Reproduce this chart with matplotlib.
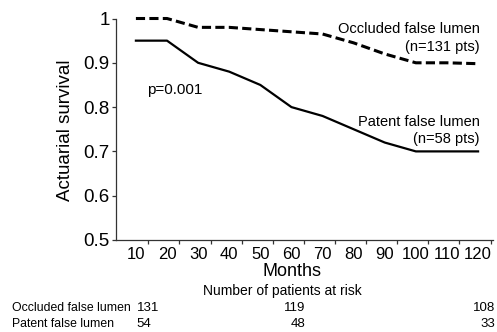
import matplotlib
matplotlib.use('Agg')
import matplotlib.pyplot as plt
import matplotlib.transforms as mtransforms
import numpy as np

# ---------------------- Data --------------------------- #

months = [10, 20, 30, 40, 50, 60, 70, 80, 90, 100, 110, 120]
occluded = [1.0, 1.0, 0.98, 0.98, 0.975, 0.97, 0.965, 0.945, 0.92, 0.90, 0.90, 0.898]
patent = [0.95, 0.95, 0.90, 0.88, 0.85, 0.80, 0.78, 0.75, 0.72, 0.70, 0.70, 0.70]

y_ticks = [0.5, 0.6, 0.7, 0.8, 0.9, 1.0]
y_tick_labels = ["0.5", "0.6", "0.7", "0.8", "0.9", "1"]

risk_rows = ["Occluded false lumen", "Patent false lumen"]
risk_occluded = [131, 119, 108]
risk_patent = [54, 48, 33]

# ---------------------- Plot --------------------------- #

plt.rcParams['font.family'] = ['Liberation Sans', 'DejaVu Sans']

fig = plt.figure(figsize=(4.97, 3.32), dpi=100)
ax = fig.add_axes([116 / 497, 1 - 240 / 332, (493 - 116) / 497, (240 - 18.5) / 332])

ax.plot(months, occluded, color='black', linewidth=2.2, linestyle=(0, (3, 1.4)), clip_on=False)
ax.plot(months, patent, color='black', linewidth=1.6, clip_on=False)

ax.set_xlim(3.6, 124.8)
ax.set_ylim(0.5, 1.0)

for side in ['top', 'right']:
    ax.spines[side].set_visible(False)
for side in ['left', 'bottom']:
    ax.spines[side].set_linewidth(0.9)
    ax.spines[side].set_color('#333333')

ax.set_yticks(y_ticks)
ax.set_yticklabels(y_tick_labels, fontsize=13.5)
ax.tick_params(axis='y', length=3, width=0.9, pad=1.5, color='#333333')

# labels sit left of the tick marks in the original
ax.set_xticks(months)
ax.set_xticklabels([str(m) for m in months], fontsize=12)
ax.tick_params(axis='x', which='major', length=0, pad=5)
ax.set_xticks(np.arange(14, 125, 10), minor=True)
ax.tick_params(axis='x', which='minor', length=3, width=0.9, color='#333333')

ax.text(22.5, 0.838, "p=0.001", fontsize=11, ha='center', va='center')
ax.text(120.5, 0.976, "Occluded false lumen", fontsize=10.5, ha='right', va='center')
ax.text(120.5, 0.936, "(n=131 pts)", fontsize=10.5, ha='right', va='center')
ax.text(120.5, 0.767, "Patent false lumen", fontsize=10.5, ha='right', va='center')
ax.text(120.5, 0.728, "(n=58 pts)", fontsize=10.5, ha='right', va='center')

fig.text(66 / 497, 1 - 130 / 332, "Actuarial survival", rotation=90,
         fontsize=13.5, ha='center', va='center')
fig.text(292 / 497, 1 - 271 / 332, "Months", fontsize=13, ha='center', va='center')
fig.text(282 / 497, 1 - 291 / 332, "Number of patients at risk", fontsize=10,
         ha='center', va='center')

# risk table
trans = mtransforms.blended_transform_factory(ax.transData, fig.transFigure)
risk_x = [10.2, 64.5, 125.5]
risk_ha = ['left', 'right', 'right']
row_y = [1 - 308 / 332, 1 - 324 / 332]
for row, counts, y in zip(risk_rows, [risk_occluded, risk_patent], row_y):
    fig.text(12 / 497, y, row, fontsize=8.8, ha='left', va='center')
    for x, ha, c in zip(risk_x, risk_ha, counts):
        fig.text(x, y, str(c), fontsize=9.5, ha=ha, va='center', transform=trans)

fig.savefig('out.png', dpi=100)
